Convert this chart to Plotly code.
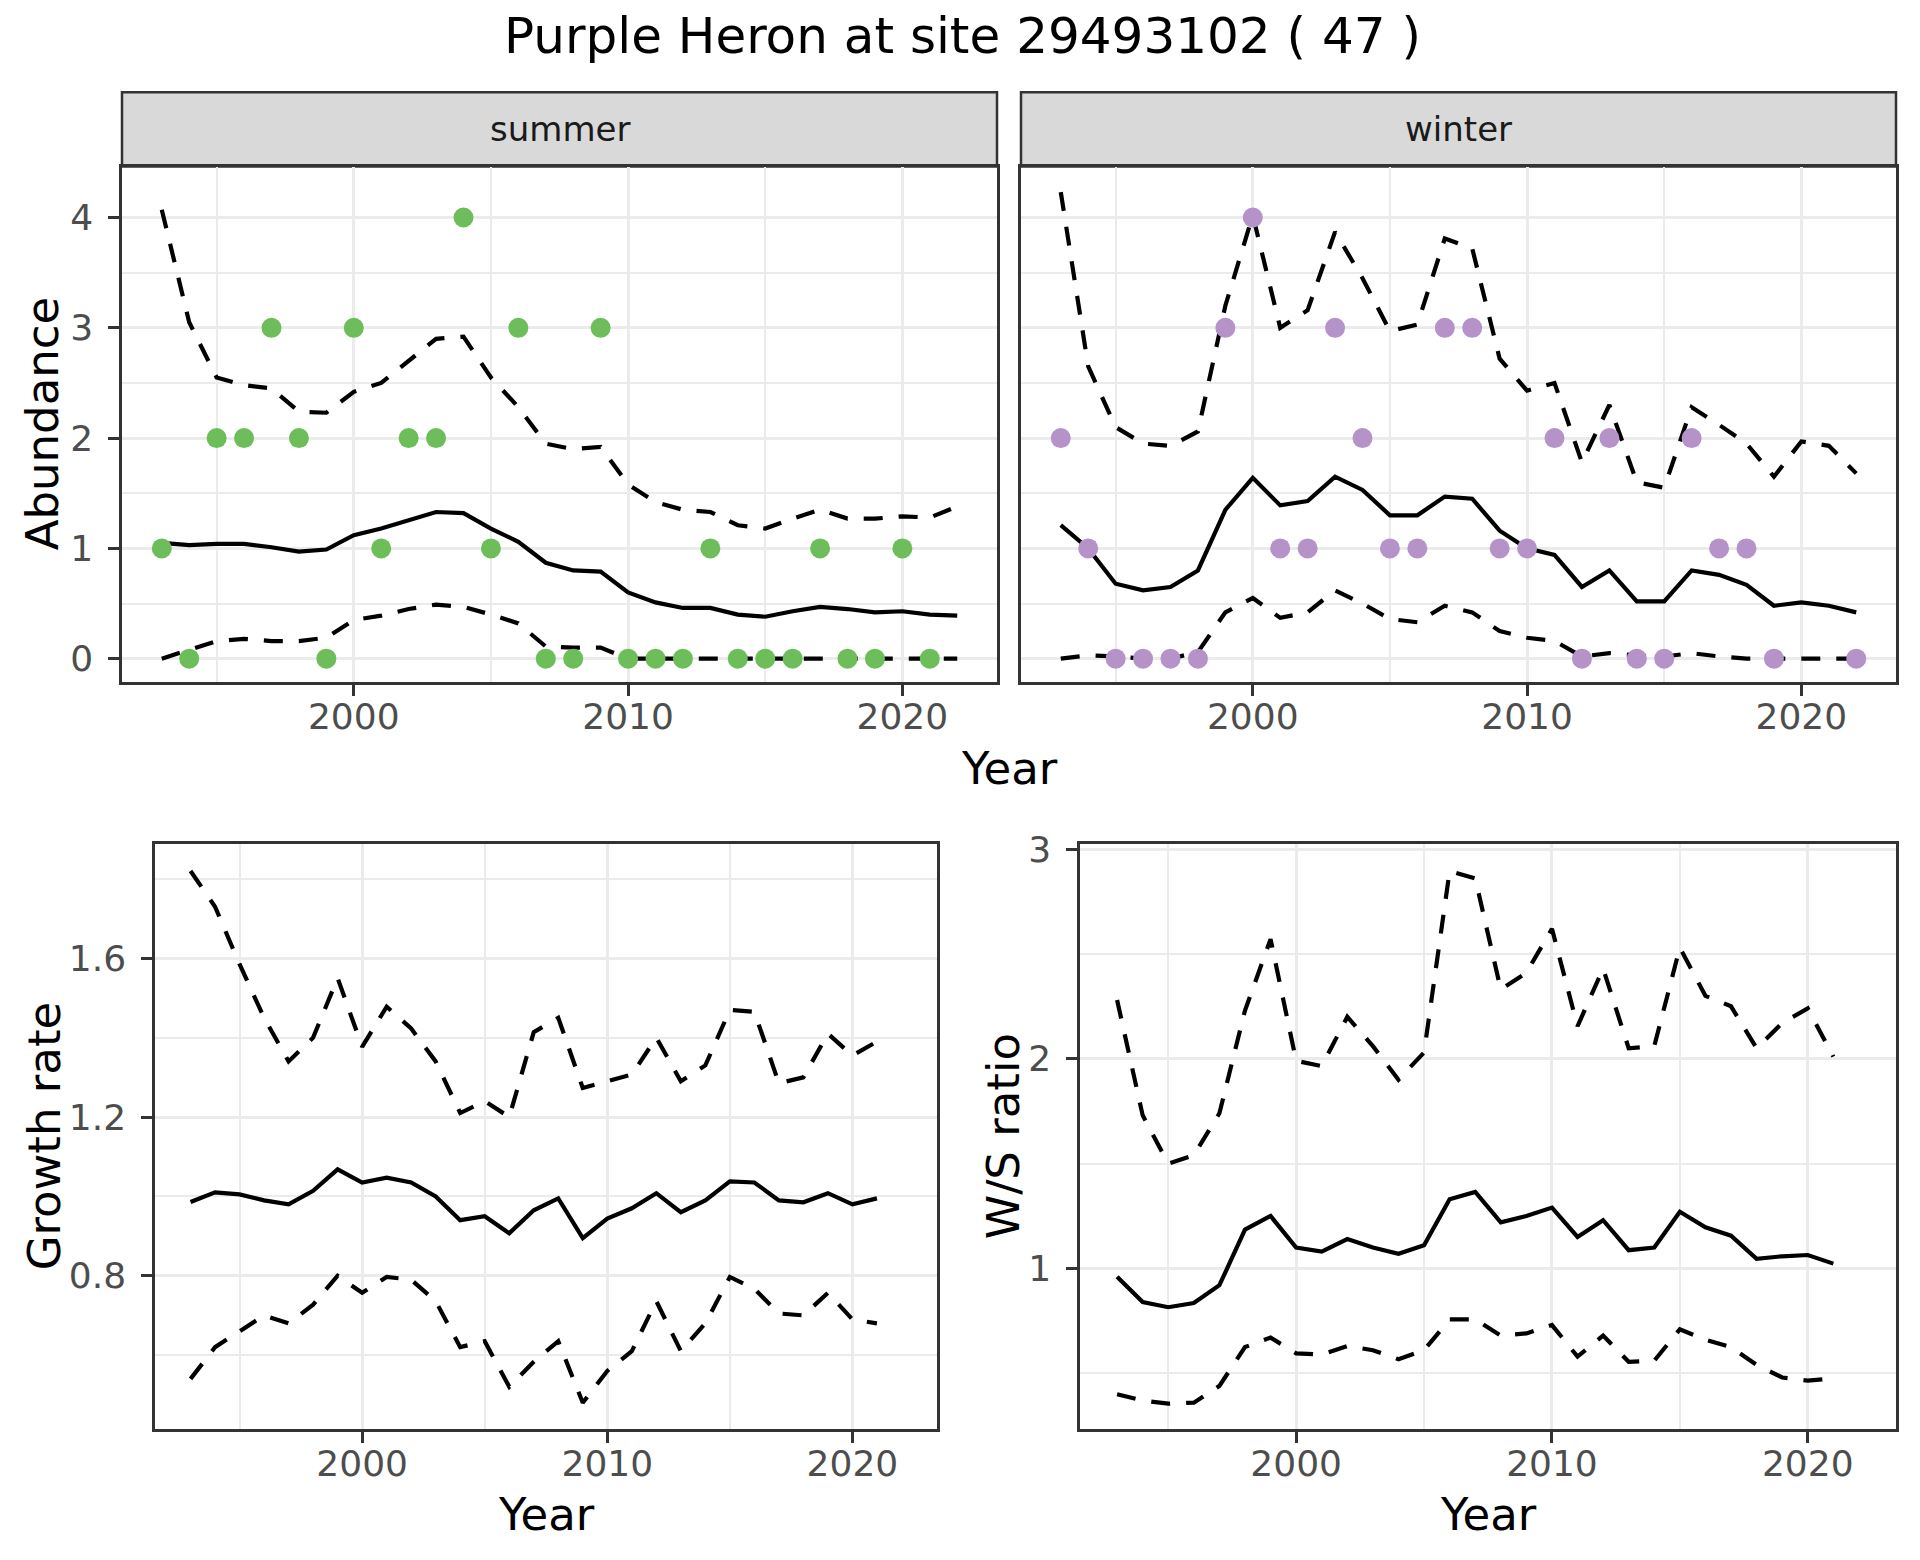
import plotly.graph_objects as go

years = list(range(1993, 2023))
years_b = list(range(1993, 2022))

summer_obs = [1, 0, 2, 2, 3, 2, 0, 3, 1, 2, 2, 4, 1, 3, 0, 0, 3, 0, 0, 0, 1, 0, 0, 0, 1, 0, 0, 1, 0, None]
summer_mean = [1.05, 1.03, 1.04, 1.04, 1.01, 0.97, 0.99, 1.12, 1.18, 1.26, 1.33, 1.32, 1.18, 1.06, 0.87,
               0.80, 0.79, 0.60, 0.51, 0.46, 0.46, 0.40, 0.38, 0.43, 0.47, 0.45, 0.42, 0.43, 0.40, 0.39]
summer_upper = [4.07, 3.05, 2.55, 2.48, 2.45, 2.24, 2.23, 2.42, 2.50, 2.70, 2.90, 2.92, 2.55, 2.28, 1.95,
                1.90, 1.92, 1.58, 1.42, 1.35, 1.33, 1.21, 1.18, 1.27, 1.35, 1.27, 1.27, 1.29, 1.28, 1.38]
summer_lower = [0.0, 0.08, 0.16, 0.18, 0.16, 0.16, 0.19, 0.35, 0.39, 0.45, 0.49, 0.47, 0.40, 0.32, 0.11,
                0.10, 0.10, 0.0, 0.0, 0.0, 0.0, 0.0, 0.0, 0.0, 0.0, 0.0, 0.0, 0.0, 0.0, 0.0]

winter_obs = [2, 1, 0, 0, 0, 0, 3, 4, 1, 1, 3, 2, 1, 1, 3, 3, 1, 1, 2, 0, 2, 0, 0, 2, 1, 1, 0, None, None, 0]
winter_mean = [1.21, 1.00, 0.68, 0.62, 0.65, 0.80, 1.35, 1.64, 1.39, 1.43, 1.65, 1.53, 1.30, 1.30, 1.47,
               1.45, 1.16, 1.00, 0.94, 0.65, 0.80, 0.52, 0.52, 0.80, 0.76, 0.67, 0.48, 0.51, 0.48, 0.42]
winter_upper = [4.23, 2.65, 2.10, 1.95, 1.93, 2.06, 3.20, 4.02, 3.00, 3.16, 3.87, 3.45, 2.97, 3.03, 3.81,
                3.72, 2.72, 2.43, 2.50, 1.78, 2.30, 1.60, 1.55, 2.28, 2.12, 1.95, 1.65, 1.97, 1.93, 1.68]
winter_lower = [0.0, 0.03, 0.02, 0.0, 0.0, 0.06, 0.42, 0.55, 0.37, 0.42, 0.62, 0.50, 0.36, 0.33, 0.48,
                0.42, 0.25, 0.19, 0.16, 0.02, 0.05, 0.03, 0.02, 0.05, 0.02, 0.0, 0.0, 0.0, 0.0, 0.0]

growth_mean = [0.986, 1.01, 1.005, 0.99, 0.98, 1.014, 1.068, 1.035, 1.047, 1.035, 1.0, 0.94, 0.95, 0.907,
               0.965, 0.995, 0.895, 0.944, 0.97, 1.008, 0.96, 0.99, 1.038, 1.035, 0.99, 0.985, 1.008, 0.98, 0.995]
growth_upper = [1.82, 1.73, 1.585, 1.45, 1.34, 1.40, 1.55, 1.377, 1.478, 1.423, 1.34, 1.21, 1.24, 1.20,
                1.414, 1.45, 1.273, 1.29, 1.307, 1.40, 1.29, 1.33, 1.47, 1.465, 1.285, 1.30, 1.41, 1.355, 1.39]
growth_lower = [0.54, 0.62, 0.66, 0.70, 0.68, 0.727, 0.80, 0.757, 0.797, 0.79, 0.736, 0.62, 0.635, 0.52,
                0.583, 0.635, 0.48, 0.56, 0.61, 0.736, 0.61, 0.68, 0.797, 0.767, 0.705, 0.70, 0.757, 0.69, 0.68]

ws_mean = [0.96, 0.84, 0.815, 0.835, 0.92, 1.185, 1.25, 1.10, 1.08, 1.14, 1.10, 1.07, 1.11, 1.33, 1.365,
           1.22, 1.25, 1.29, 1.15, 1.23, 1.087, 1.10, 1.27, 1.196, 1.156, 1.046, 1.058, 1.064, 1.023]
ws_upper = [2.28, 1.73, 1.50, 1.54, 1.74, 2.23, 2.57, 1.99, 1.965, 2.20, 2.06, 1.90, 2.03, 2.895, 2.86,
            2.33, 2.41, 2.62, 2.155, 2.43, 2.05, 2.06, 2.53, 2.30, 2.25, 2.05, 2.17, 2.24, 2.01]
ws_lower = [0.40, 0.37, 0.355, 0.36, 0.44, 0.625, 0.67, 0.595, 0.59, 0.63, 0.61, 0.567, 0.61, 0.757, 0.757,
            0.68, 0.69, 0.73, 0.58, 0.68, 0.555, 0.56, 0.71, 0.66, 0.625, 0.54, 0.48, 0.465, 0.475]

title_text = "Purple Heron at site 29493102 ( 47 )"

# page body has an 8px margin: figure drawn inside it
OFF = 8
W, H = 1920 - 2 * OFF, 1560 - 2 * OFF
FONT = "DejaVu Sans"
GREEN = "#6DBE5B"
PURPLE = "#B592C8"
BORDER = "#333333"
GRID = "#EBEBEB"
TICKC = "#4D4D4D"

def dx(px):
    return (px - OFF) / W

def dy(px):
    return 1 - (px - OFF) / H

fig = go.Figure()

LINEW = 4.2
DASH = "19px,16px"

def add_band(xs, mean, upper, lower, xa, ya):
    for vals, dash in ((upper, DASH), (lower, DASH), (mean, "solid")):
        fig.add_trace(go.Scatter(x=xs, y=vals, mode="lines", xaxis=xa, yaxis=ya,
                                 line=dict(color="black", width=LINEW, dash=dash),
                                 showlegend=False, hoverinfo="skip"))

add_band(years, summer_mean, summer_upper, summer_lower, "x", "y")
fig.add_trace(go.Scatter(x=years, y=summer_obs, mode="markers", xaxis="x", yaxis="y",
                         marker=dict(color=GREEN, size=20), showlegend=False))
add_band(years, winter_mean, winter_upper, winter_lower, "x2", "y2")
fig.add_trace(go.Scatter(x=years, y=winter_obs, mode="markers", xaxis="x2", yaxis="y2",
                         marker=dict(color=PURPLE, size=20), showlegend=False))
add_band(years_b, growth_mean, growth_upper, growth_lower, "x3", "y3")
add_band(years_b, ws_mean, ws_upper, ws_lower, "x4", "y4")

tickfont = dict(family=FONT, size=36, color=TICKC)
XR = [1991.55, 2023.45]

def xaxis(dom, anchor):
    return dict(domain=dom, anchor=anchor, range=XR, tickmode="array", tickvals=[2000, 2010, 2020],
                ticks="outside", ticklen=11, tickwidth=2.5, tickcolor=BORDER, tickfont=tickfont,
                ticklabelstandoff=-10,
                showgrid=True, gridcolor=GRID, gridwidth=3.2,
                minor=dict(tickmode="array", tickvals=[1995, 2005, 2015], showgrid=True,
                           gridcolor=GRID, gridwidth=1.8, ticks=""),
                showline=True, mirror=True, linecolor=BORDER, linewidth=2.5, zeroline=False)

def yaxis(dom, anchor, rng, major, minor, labels=True):
    return dict(domain=dom, anchor=anchor, range=rng, tickmode="array", tickvals=major,
                ticks="outside" if labels else "", ticklen=11, tickwidth=2.5, tickcolor=BORDER,
                showticklabels=labels, tickfont=tickfont, ticklabelstandoff=8,
                showgrid=True, gridcolor=GRID, gridwidth=3.2,
                minor=dict(tickmode="array", tickvals=minor, showgrid=True, gridcolor=GRID,
                           gridwidth=1.8, ticks=""),
                showline=True, mirror=True, linecolor=BORDER, linewidth=2.5, zeroline=False)

STRIP_TOP, STRIP_BOT, TOP_BOT = 77, 152, 673
top_y = [dy(TOP_BOT), dy(STRIP_BOT)]
bot_y = [dy(1428), dy(837)]
TL_x = [dx(122), dx(997)]
TR_x = [dx(1021), dx(1896)]
BL_x = [dx(155), dx(937)]
BR_x = [dx(1080), dx(1896)]

fig.update_layout(
    width=W, height=H, margin=dict(l=0, r=0, t=0, b=0),
    paper_bgcolor="white", plot_bgcolor="white",
    font=dict(family=FONT),
    xaxis=xaxis(TL_x, "y"),
    yaxis=yaxis(top_y, "x", [-0.2125, 4.4625], [0, 1, 2, 3, 4], [0.5, 1.5, 2.5, 3.5]),
    xaxis2=xaxis(TR_x, "y2"),
    yaxis2=yaxis(top_y, "x2", [-0.2125, 4.4625], [0, 1, 2, 3, 4], [0.5, 1.5, 2.5, 3.5], labels=False),
    xaxis3=xaxis(BL_x, "y3"),
    yaxis3=yaxis(bot_y, "x3", [0.413, 1.887], [0.8, 1.2, 1.6], [0.6, 1.0, 1.4, 1.8]),
    xaxis4=xaxis(BR_x, "y4"),
    yaxis4=yaxis(bot_y, "x4", [0.233, 3.022], [1, 2, 3], [0.5, 1.5, 2.5]),
)

# facet strips
for xd, label in ((TL_x, "summer"), (TR_x, "winter")):
    fig.add_shape(type="rect", xref="paper", yref="paper", x0=xd[0], x1=xd[1],
                  y0=dy(STRIP_BOT), y1=dy(STRIP_TOP),
                  fillcolor="#D9D9D9", line=dict(color=BORDER, width=2.5), layer="below")
    fig.add_annotation(xref="paper", yref="paper", x=(xd[0] + xd[1]) / 2,
                       y=dy((STRIP_TOP + STRIP_BOT) / 2),
                       text=label, showarrow=False, xanchor="center", yanchor="middle",
                       font=dict(family=FONT, size=34, color="#1A1A1A"))

def ann(x, y, text, size, angle=0):
    fig.add_annotation(xref="paper", yref="paper", x=dx(x), y=dy(y), text=text, showarrow=False,
                       xanchor="center", yanchor="middle", textangle=angle,
                       font=dict(family=FONT, size=size, color="black"))

ann(962, 20, title_text, 50)
ann(1009, 760, "Year", 45)
ann(546, 1514, "Year", 45)
ann(1488, 1514, "Year", 45)
ann(42, (STRIP_BOT + TOP_BOT) / 2, "Abundance", 45, -90)
ann(44, 1132, "Growth rate", 45, -90)
ann(1003, 1132, "W/S ratio", 45, -90)

fig.write_html("out.html")
